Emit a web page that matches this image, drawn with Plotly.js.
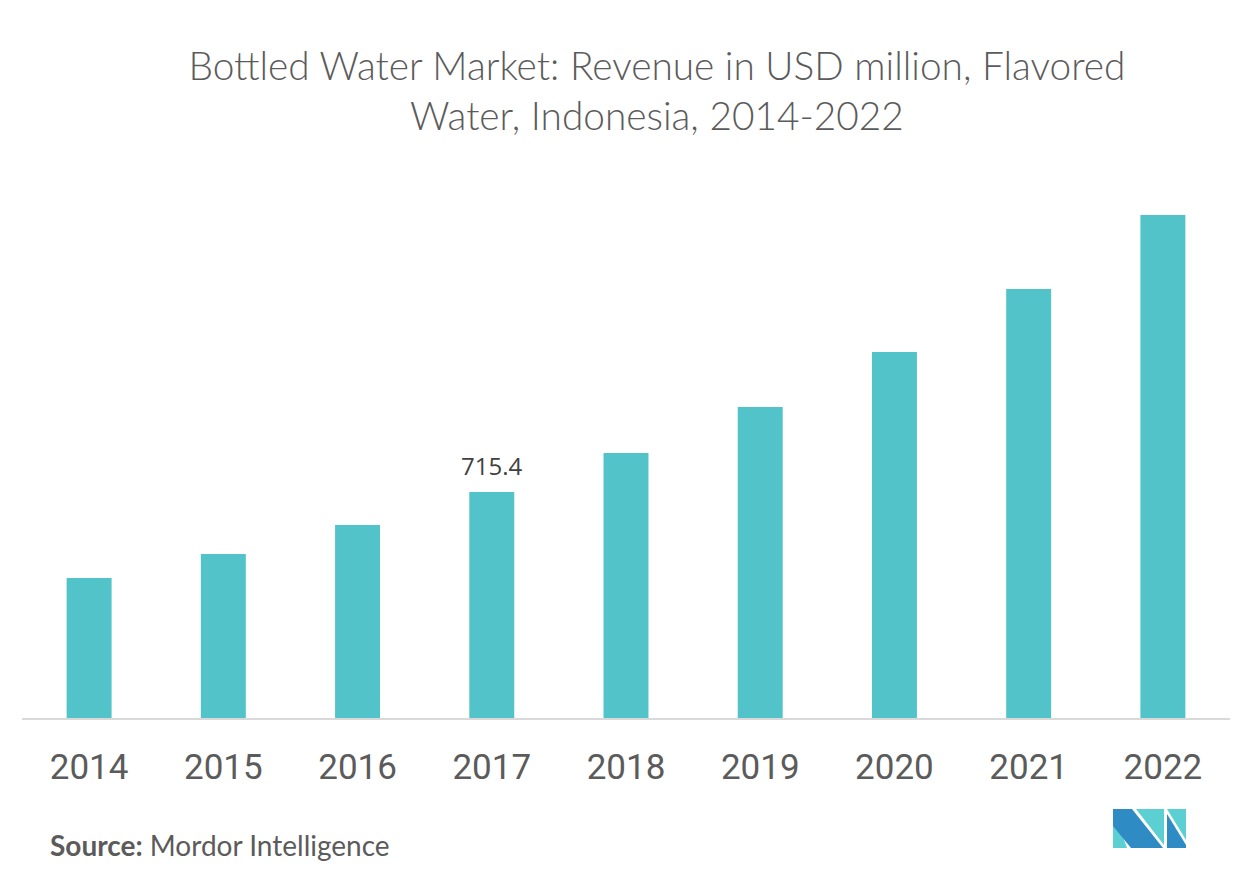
<!DOCTYPE html>
<html>
<head>
<meta charset="utf-8">
<script src="https://cdn.plot.ly/plotly-3.0.1.min.js"></script>
<style>html,body{margin:0;padding:0;background:#fff;}#chart{width:1252px;height:880px;}</style>
</head>
<body>
<div id="chart"></div>
<script>
const years = ['2014','2015','2016','2017','2018','2019','2020','2021','2022'];
const revenue = [443.2, 519.1, 610.9, 715.4, 838.9, 984.5, 1158.6, 1358.0, 1592.3];
const labelYear = '2017';
const labelValue = 715.4;

const trace = {
  type: 'bar',
  x: years,
  y: revenue,
  marker: {color: '#52c3c9'},
  hoverinfo: 'x+y'
};

const layout = {
  width: 1252,
  height: 880,
  paper_bgcolor: '#ffffff',
  plot_bgcolor: '#ffffff',
  margin: {l: 22, r: 22, t: 150, b: 162},
  bargap: 0.665,
  showlegend: false,
  title: {
    text: 'Bottled Water Market: Revenue in USD million, Flavored<br>Water, Indonesia, 2014-2022',
    font: {family: 'Lato', size: 38.8, weight: 300, color: '#5b5b5b'},
    x: 0.5256, xanchor: 'center',
    xref: 'paper',
    y: 1 - 80/880, yanchor: 'middle', yref: 'container'
  },
  xaxis: {
    type: 'category',
    range: [-0.5, years.length - 0.5],
    showline: true, linecolor: '#d9d9d9', linewidth: 2,
    ticks: 'outside', ticklen: 17, tickcolor: 'rgba(0,0,0,0)',
    tickfont: {family: 'Roboto', size: 35, color: '#5b5b5b'},
    showgrid: false, zeroline: false, fixedrange: true
  },
  yaxis: {
    range: [0, 1798],
    visible: false, showgrid: false, zeroline: false, fixedrange: true
  },
  annotations: [
    {
      text: String(labelValue),
      x: years.indexOf(labelYear), y: labelValue, xref: 'x', yref: 'y',
      yanchor: 'bottom', yshift: 8, showarrow: false,
      font: {family: 'Open Sans', size: 24, color: '#404040'}
    },
    {
      text: '<b>Source:</b> Mordor Intelligence',
      xref: 'paper', yref: 'paper', x: 0, y: 0,
      xshift: 26, yshift: -127, xanchor: 'left', yanchor: 'middle',
      showarrow: false,
      font: {family: 'Lato', size: 28, color: '#5b5b5b'}
    }
  ],
  shapes: [
    {type: 'path', xref: 'paper', yref: 'paper', xsizemode: 'pixel', ysizemode: 'pixel', xanchor: 0, yanchor: 0,
     path: 'M 1091 -91 L 1091 -130 L 1105 -130 Z', fillcolor: '#5ccfd3', line: {width: 0}},
    {type: 'path', xref: 'paper', yref: 'paper', xsizemode: 'pixel', ysizemode: 'pixel', xanchor: 0, yanchor: 0,
     path: 'M 1091 -91 L 1110 -91 L 1141 -130 L 1109 -130 L 1091 -108 Z', fillcolor: '#2f8bc3', line: {width: 0}},
    {type: 'path', xref: 'paper', yref: 'paper', xsizemode: 'pixel', ysizemode: 'pixel', xanchor: 0, yanchor: 0,
     path: 'M 1114 -91 L 1142 -91 L 1142 -127 Z', fillcolor: '#5ccfd3', line: {width: 0}},
    {type: 'path', xref: 'paper', yref: 'paper', xsizemode: 'pixel', ysizemode: 'pixel', xanchor: 0, yanchor: 0,
     path: 'M 1145 -91 L 1164 -91 L 1164 -122 Z', fillcolor: '#5ccfd3', line: {width: 0}},
    {type: 'path', xref: 'paper', yref: 'paper', xsizemode: 'pixel', ysizemode: 'pixel', xanchor: 0, yanchor: 0,
     path: 'M 1145 -96 L 1145 -130 L 1164 -130 L 1164 -127 Z', fillcolor: '#2f8bc3', line: {width: 0}}
  ]
};

Plotly.newPlot('chart', [trace], layout, {displayModeBar: false, staticPlot: true});
</script>
</body>
</html>
